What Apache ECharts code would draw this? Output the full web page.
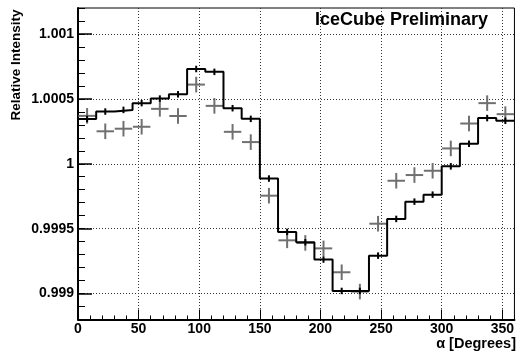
<!DOCTYPE html>
<html>
<head>
<meta charset="utf-8">
<script src="https://cdn.jsdelivr.net/npm/echarts@6/dist/echarts.min.js"></script>
<style>
html,body{margin:0;padding:0;background:#fff;}
#chart{width:517px;height:354px;}
</style>
</head>
<body>
<div id="chart"></div>
<script>
// Bin edges (degrees) and bin centers
const binEdges = [0,15,30,45,60,75,90,105,120,135,150,165,180,195,210,225,240,255,270,285,300,315,330,345,360];
const binCenters = [7.5,22.5,37.5,52.5,67.5,82.5,97.5,112.5,127.5,142.5,157.5,172.5,187.5,202.5,217.5,232.5,247.5,262.5,277.5,292.5,307.5,322.5,337.5,352.5];
// Black histogram (relative intensity)
const histValues = [1.000345,1.000402,1.000415,1.000467,1.000502,1.000535,1.000730,1.000708,1.000428,1.000346,0.999886,0.999475,0.999395,0.999262,0.999020,0.999020,0.999292,0.999575,0.999708,0.999762,0.999980,1.000154,1.000352,1.000331];
const histErr = 0.000025;
// Gray crosses
const grayValues = [1.000369,1.000250,1.000270,1.000285,1.000423,1.000368,1.000610,1.000446,1.000246,1.000167,0.999754,0.999410,0.999390,0.999348,0.999164,0.999015,0.999538,0.999869,0.999913,0.999946,1.000118,1.000310,1.000467,1.000382];
const grayErr = 0.00006;
const grayHalfWidth = 7.2;
// Ticks
const xMajorTicks = [0,50,100,150,200,250,300,350];
const yMajorTicks = [0.999,0.9995,1,1.0005,1.001];
const yLabels = ['0.999','0.9995','1','1.0005','1.001'];

const FONT = 'Liberation Sans';
const chart = echarts.init(document.getElementById('chart'), null, {renderer:'canvas'});

const stepData = [];
for (let i = 0; i < histValues.length; i++) stepData.push([binEdges[i], histValues[i]]);
stepData.push([binEdges[binEdges.length-1], histValues[histValues.length-1]]);

const errData = binCenters.map((c,i)=>[c, histValues[i]]);
const grayData = binCenters.map((c,i)=>[c, grayValues[i]]);

const gridline = {show:true, lineStyle:{color:'#333', width:1, type:[1,2]}};

chart.setOption({
  animation:false,
  backgroundColor:'#fff',
  grid:{left:78, right:1, top:8, bottom:34.5, show:true, borderColor:'#000', borderWidth:1, containLabel:false},
  xAxis:[
    {type:'value', min:0, max:360, interval:10, position:'bottom',
     axisLine:{show:true, onZero:false, lineStyle:{color:'#000', width:2}},
     axisTick:{show:true, inside:true, length:4, lineStyle:{color:'#000', width:1}},
     axisLabel:{show:false}, splitLine:{show:false}},
    {type:'value', min:0, max:360, position:'bottom',
     axisLine:{show:false, onZero:false},
     axisTick:{show:true, inside:true, length:10, customValues:xMajorTicks, lineStyle:{color:'#000', width:1}},
     axisLabel:{show:true, customValues:xMajorTicks, margin:3, color:'#000', fontFamily:FONT, fontWeight:'bold', fontSize:14},
     splitLine:gridline}
  ],
  yAxis:[
    {type:'value', min:0.9988, max:1.0012, interval:0.0001, position:'left',
     axisLine:{show:true, onZero:false, lineStyle:{color:'#000', width:2}},
     axisTick:{show:true, inside:true, length:7, lineStyle:{color:'#000', width:1}},
     axisLabel:{show:false}, splitLine:{show:false}},
    {type:'value', min:0.9988, max:1.0012, position:'left',
     axisLine:{show:false, onZero:false},
     axisTick:{show:true, inside:true, length:14, customValues:yMajorTicks, lineStyle:{color:'#000', width:1.5}},
     axisLabel:{show:true, customValues:yMajorTicks, margin:4, color:'#000', fontFamily:FONT, fontWeight:'bold', fontSize:14,
       formatter:function(v){ for (let i=0;i<yMajorTicks.length;i++){ if (Math.abs(v-yMajorTicks[i])<1e-9) return yLabels[i]; } return ''; }},
     splitLine:gridline}
  ],
  series:[
    {type:'custom', xAxisIndex:0, yAxisIndex:0, data:grayData, z:3,
     renderItem:function(params, api){
       const x = api.value(0), y = api.value(1);
       const c = api.coord([x,y]);
       const l = api.coord([x-grayHalfWidth,y]);
       const r = api.coord([x+grayHalfWidth,y]);
       const t = api.coord([x,y+grayErr]);
       const b = api.coord([x,y-grayErr]);
       const st = {stroke:'#707070', lineWidth:2};
       return {type:'group', children:[
         {type:'line', shape:{x1:l[0],y1:c[1],x2:r[0],y2:c[1]}, style:st},
         {type:'line', shape:{x1:c[0],y1:t[1],x2:c[0],y2:b[1]}, style:st}
       ]};
     }},
    {type:'line', xAxisIndex:0, yAxisIndex:0, data:stepData, step:'end', symbol:'none', z:4,
     lineStyle:{color:'#000', width:2}},
    {type:'custom', xAxisIndex:0, yAxisIndex:0, data:errData, z:5,
     renderItem:function(params, api){
       const x = api.value(0), y = api.value(1);
       const t = api.coord([x,y+histErr]);
       const b = api.coord([x,y-histErr]);
       return {type:'line', shape:{x1:t[0],y1:t[1],x2:b[0],y2:b[1]}, style:{stroke:'#000', lineWidth:2}};
     }}
  ],
  graphic:[
    {type:'text', right:29, top:11, style:{text:'IceCube Preliminary', fill:'#000', font:'bold 18px "Liberation Sans"'}},
    {type:'text', x:16, y:65, rotation:Math.PI/2, style:{text:'Relative Intensity', fill:'#000', font:'bold 13.5px "Liberation Sans"', textAlign:'center', textVerticalAlign:'middle'}},
    {type:'text', right:1, top:336, style:{text:'α [Degrees]', fill:'#000', font:'bold 14.5px "Liberation Sans"'}}
  ]
});
</script>
</body>
</html>
